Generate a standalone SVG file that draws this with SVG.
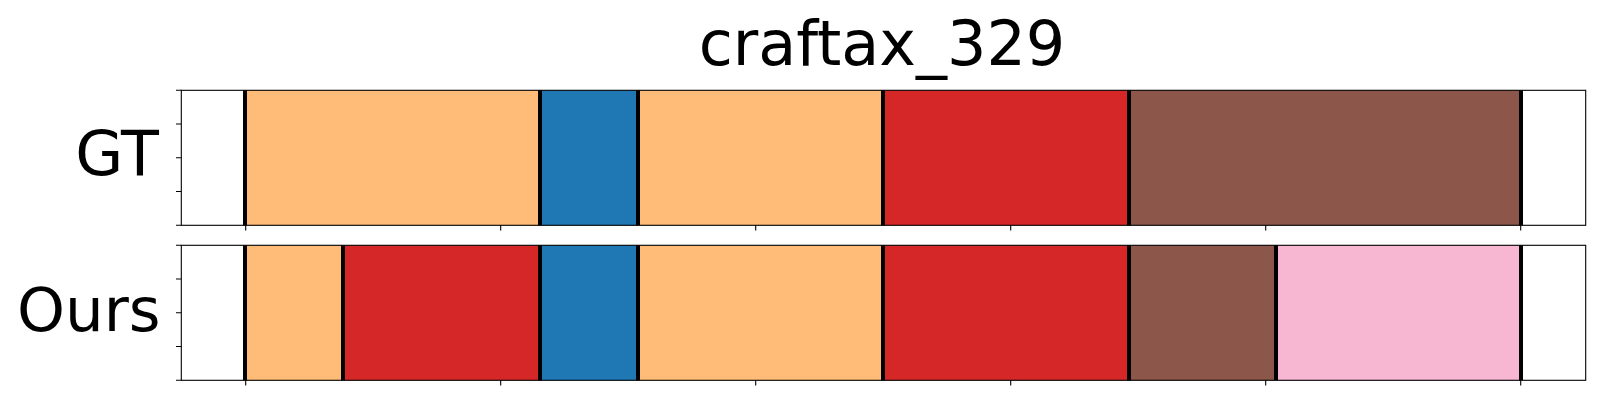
<svg xmlns="http://www.w3.org/2000/svg" width="1600" height="400" viewBox="0 0 1600 400">
<style>
.t{font-family:"DejaVu Sans",sans-serif;fill:#000}
.o{fill:#ffbb78}.b{fill:#1f77b4}.r{fill:#d62728}.br{fill:#8c564b}.p{fill:#f7b6d2}
.bd{stroke:#000;stroke-width:4}
.sp{fill:none;stroke:#000;stroke-width:1.1}
.tk{stroke:#000;stroke-width:1.1}
</style>
<rect width="1600" height="400" fill="#fff"/>
<text class="t" x="882" y="65" font-size="62" text-anchor="middle">craftax_329</text>
<g id="gt">
  <rect class="o" x="245" y="90.3" width="295" height="135"/>
  <rect class="b" x="540" y="90.3" width="98" height="135"/>
  <rect class="o" x="638" y="90.3" width="245" height="135"/>
  <rect class="r" x="883" y="90.3" width="246" height="135"/>
  <rect class="br" x="1129" y="90.3" width="392" height="135"/>
  <g class="bd">
    <line x1="245" y1="90.3" x2="245" y2="225.3"/>
    <line x1="540" y1="90.3" x2="540" y2="225.3"/>
    <line x1="638" y1="90.3" x2="638" y2="225.3"/>
    <line x1="883" y1="90.3" x2="883" y2="225.3"/>
    <line x1="1129" y1="90.3" x2="1129" y2="225.3"/>
    <line x1="1521" y1="90.3" x2="1521" y2="225.3"/>
  </g>
  <rect class="sp" x="181.3" y="90.3" width="1404.4" height="135"/>
  <path class="tk" d="M176 90.3H181.3M176 124H181.3M176 157.8H181.3M176 191.5H181.3M176 225.3H181.3M245.7 225.3V230.5M500.7 225.3V230.5M755.7 225.3V230.5M1010.7 225.3V230.5M1265.7 225.3V230.5M1520.7 225.3V230.5"/>
  <text class="t" x="159" y="175" font-size="62" text-anchor="end">GT</text>
</g>
<g id="ours">
  <rect class="o" x="245" y="245.3" width="98" height="135"/>
  <rect class="r" x="343" y="245.3" width="197" height="135"/>
  <rect class="b" x="540" y="245.3" width="98" height="135"/>
  <rect class="o" x="638" y="245.3" width="245" height="135"/>
  <rect class="r" x="883" y="245.3" width="246" height="135"/>
  <rect class="br" x="1129" y="245.3" width="147" height="135"/>
  <rect class="p" x="1276" y="245.3" width="245" height="135"/>
  <g class="bd">
    <line x1="245" y1="245.3" x2="245" y2="380.3"/>
    <line x1="343" y1="245.3" x2="343" y2="380.3"/>
    <line x1="540" y1="245.3" x2="540" y2="380.3"/>
    <line x1="638" y1="245.3" x2="638" y2="380.3"/>
    <line x1="883" y1="245.3" x2="883" y2="380.3"/>
    <line x1="1129" y1="245.3" x2="1129" y2="380.3"/>
    <line x1="1276" y1="245.3" x2="1276" y2="380.3"/>
    <line x1="1521" y1="245.3" x2="1521" y2="380.3"/>
  </g>
  <rect class="sp" x="181.3" y="245.3" width="1404.4" height="135"/>
  <path class="tk" d="M176 245.3H181.3M176 279H181.3M176 312.8H181.3M176 346.5H181.3M176 380.3H181.3M245.7 380.3V385.5M500.7 380.3V385.5M755.7 380.3V385.5M1010.7 380.3V385.5M1265.7 380.3V385.5M1520.7 380.3V385.5"/>
  <text class="t" x="160.5" y="330.5" font-size="61" text-anchor="end">Ours</text>
</g>
</svg>
